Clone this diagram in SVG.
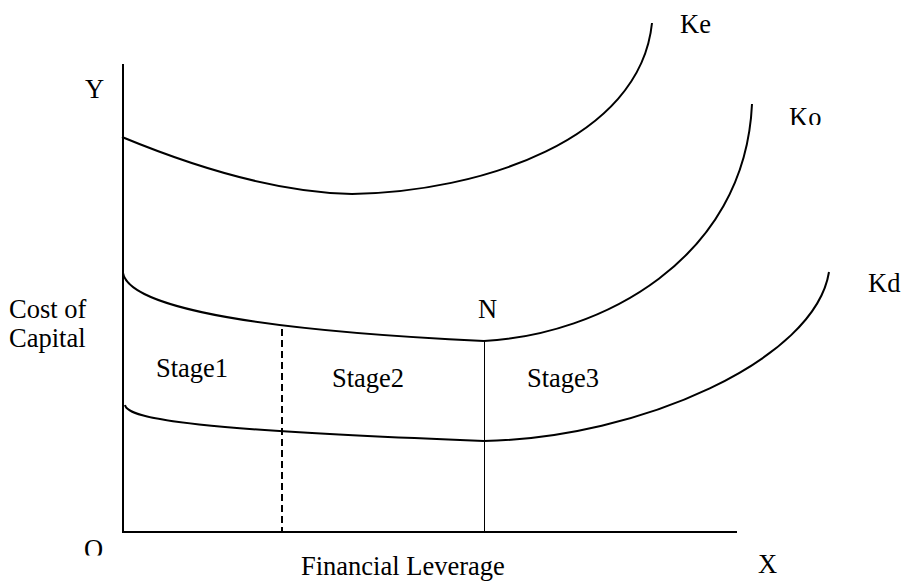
<svg xmlns="http://www.w3.org/2000/svg" width="902" height="581" viewBox="0 0 902 581">
<style>
  text { font-family: "Liberation Serif", "Times New Roman", serif; font-size: 26.5px; fill: #000; }
  .curve { fill: none; stroke: #000; stroke-width: 2; }
  .axis { fill: none; stroke: #000; stroke-width: 2; }
  .thin { fill: none; stroke: #000; stroke-width: 1; }
  .dash { fill: none; stroke: #000; stroke-width: 2; stroke-dasharray: 7 4; }
</style>
<defs>
  <clipPath id="clipKo"><rect x="780" y="90" width="60" height="35"/></clipPath>
  <clipPath id="clipO"><rect x="70" y="530" width="50" height="25.5"/></clipPath>
</defs>
<rect width="902" height="581" fill="#fff"/>
<g id="connectors">
  <path class="axis" d="M123,64 L123,532 L737,532"/>
  <path class="dash" d="M282,329 L282,532"/>
  <path class="thin" d="M484.5,341 L484.5,532"/>
</g>
<g id="Ke">
  <path class="curve" d="M122,137 Q255,192 352,194"/>
  <path class="curve" d="M352,194 C480,192 640,140 652,23"/>
  <text x="680" y="33">Ke</text>
</g>
<g id="Ko">
  <path class="curve" d="M123,273 C128,300 210,328 484,341"/>
  <path class="curve" d="M484,341 C600,335 745,260 752,104"/>
  <text x="789" y="125.5" clip-path="url(#clipKo)">Ko</text>
</g>
<g id="Kd">
  <path class="curve" d="M125,405 C128,420 200,430 484,441"/>
  <path class="curve" d="M484,441 C640,438 815,360 829,272"/>
  <text x="868" y="292">Kd</text>
</g>
<g id="labels">
  <text x="85" y="98">Y</text>
  <text x="9" y="318">Cost of</text>
  <text x="9" y="347">Capital</text>
  <text x="156" y="377">Stage1</text>
  <text x="332" y="387">Stage2</text>
  <text x="527" y="387">Stage3</text>
  <text x="478" y="318">N</text>
  <text x="84" y="558" clip-path="url(#clipO)">O</text>
  <text x="758" y="573">X</text>
  <text x="301" y="575">Financial Leverage</text>
</g>
</svg>
